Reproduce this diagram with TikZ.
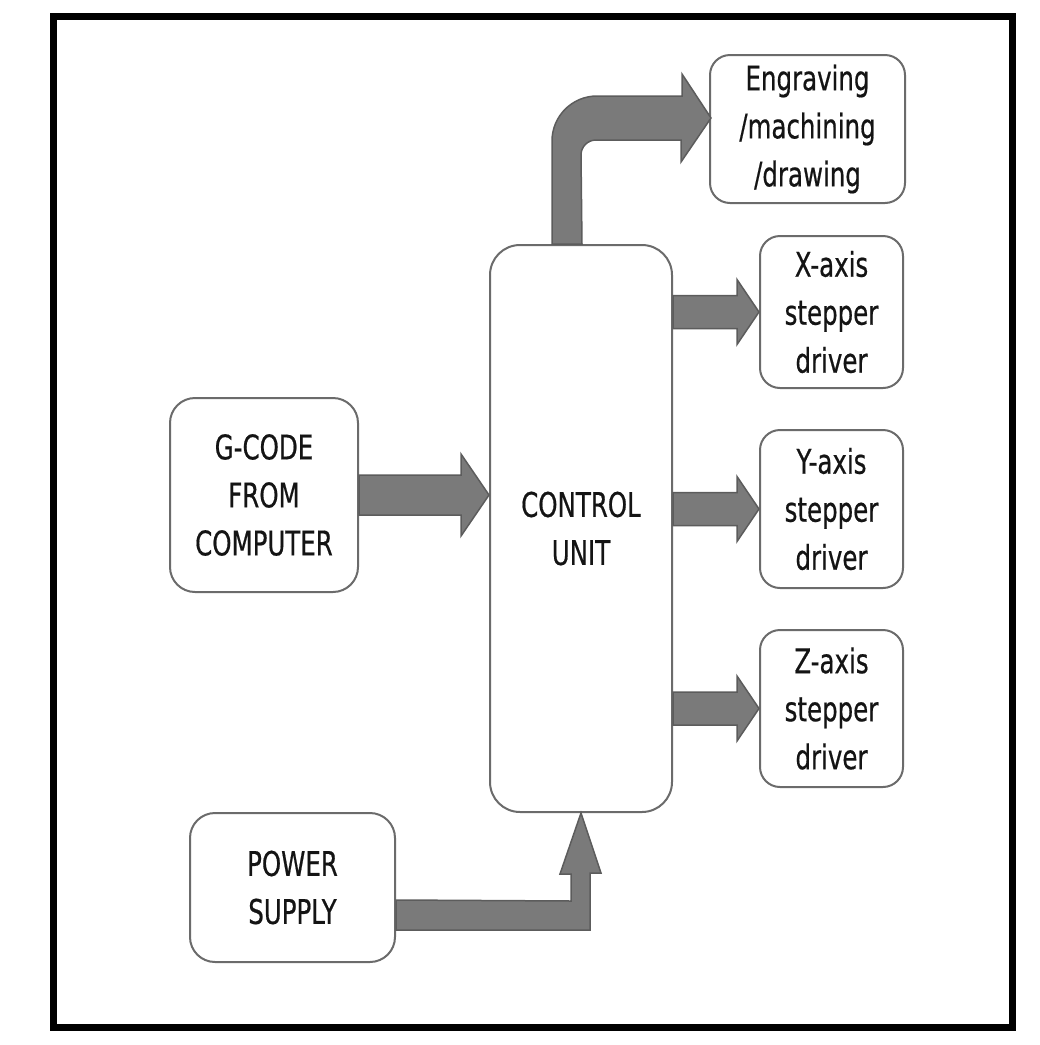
\documentclass[tikz,border=0pt]{standalone}
\usepackage{fontspec}
\setmainfont{DejaVu Sans}[FakeStretch=0.72,FakeBold=0.5]
\usetikzlibrary{calc}

\begin{document}
\begin{tikzpicture}[x=1pt,y=-1pt,font=\fontsize{34pt}{48pt}\selectfont]
\tikzset{
  blk/.style={draw=black!58,line width=2pt,fill=white,rounded corners=20pt,
    align=center,inner sep=0pt,text=black!92},
  fat/.style={draw=black!64,line width=1.5pt,fill=black!52,line join=miter}
}
\useasboundingbox (0,0) rectangle (1040,1045);
\draw[line width=7pt] (53.5,16.5) rectangle (1012.5,1027.5);

\node[blk,rounded corners=30pt,minimum width=182pt,minimum height=567pt] (cu) at (581,528.5) {CONTROL\\UNIT};
\node[blk,rounded corners=25pt,minimum width=188pt,minimum height=194pt] (gc) at (264,495) {G-CODE\\FROM\\COMPUTER};
\node[blk,rounded corners=25pt,minimum width=205pt,minimum height=149pt] (ps) at (292.5,887.5) {POWER\\SUPPLY};
\node[blk,minimum width=195pt,minimum height=148pt] (eng) at (807.5,129) {Engraving\\/machining\\/drawing};
\node[blk,minimum width=143pt,minimum height=152pt] (xd) at (831.5,312) {X-axis\\stepper\\driver};
\node[blk,minimum width=143pt,minimum height=158pt] (yd) at (831.5,509) {Y-axis\\stepper\\driver};
\node[blk,minimum width=143pt,minimum height=157pt] (zd) at (831.5,708.5) {Z-axis\\stepper\\driver};

% input and supply
\draw[fat] ($(gc.east)+(0,-20)$) -- ($(cu.west|-gc.east)+(-28,-20)$) -- ++(0,-21) -- (cu.west|-gc.east)
  -- ++(-28,41) -- ++(0,-21) -- ($(gc.east)+(0,20)$) -- cycle;
\draw[fat] ($(ps.east)+(0,42.5)$) -- ($(cu.south|-ps.east)+(9,42.5)$) -- ++(0,-57) -- ++(11,0) -- (cu.south)
  -- ++(-21,61) -- ++(11,0) -- ++(0,27) -- ($(ps.east)+(0,12.5)$) -- cycle;

% outputs
\draw[fat] ($(cu.north)+(-29,0)$) -- ++(0,-103) arc[start angle=180,end angle=270,radius=45] -- ++(85,0)
  -- ++(0,-22) -- ($(eng.west)+(2,-11)$) -- ++(-30,44) -- ++(0,-22) -- ++(-85,0)
  arc[start angle=270,end angle=180,radius=15] -- ($(cu.north)+(1,0)$) -- cycle;
\draw[fat] ($(cu.east|-xd.west)+(0,-16.5)$) -- ($(xd.west)+(-22,-16.5)$) -- ++(0,-16) -- (xd.west)
  -- ++(-22,32.5) -- ++(0,-16) -- ($(cu.east|-xd.west)+(0,16.5)$) -- cycle;
\draw[fat] ($(cu.east|-yd.west)+(0,-16.5)$) -- ($(yd.west)+(-22,-16.5)$) -- ++(0,-16) -- (yd.west)
  -- ++(-22,32.5) -- ++(0,-16) -- ($(cu.east|-yd.west)+(0,16.5)$) -- cycle;
\draw[fat] ($(cu.east|-zd.west)+(0,-16.5)$) -- ($(zd.west)+(-22,-16.5)$) -- ++(0,-16) -- (zd.west)
  -- ++(-22,32.5) -- ++(0,-16) -- ($(cu.east|-zd.west)+(0,16.5)$) -- cycle;
\end{tikzpicture}
\end{document}
